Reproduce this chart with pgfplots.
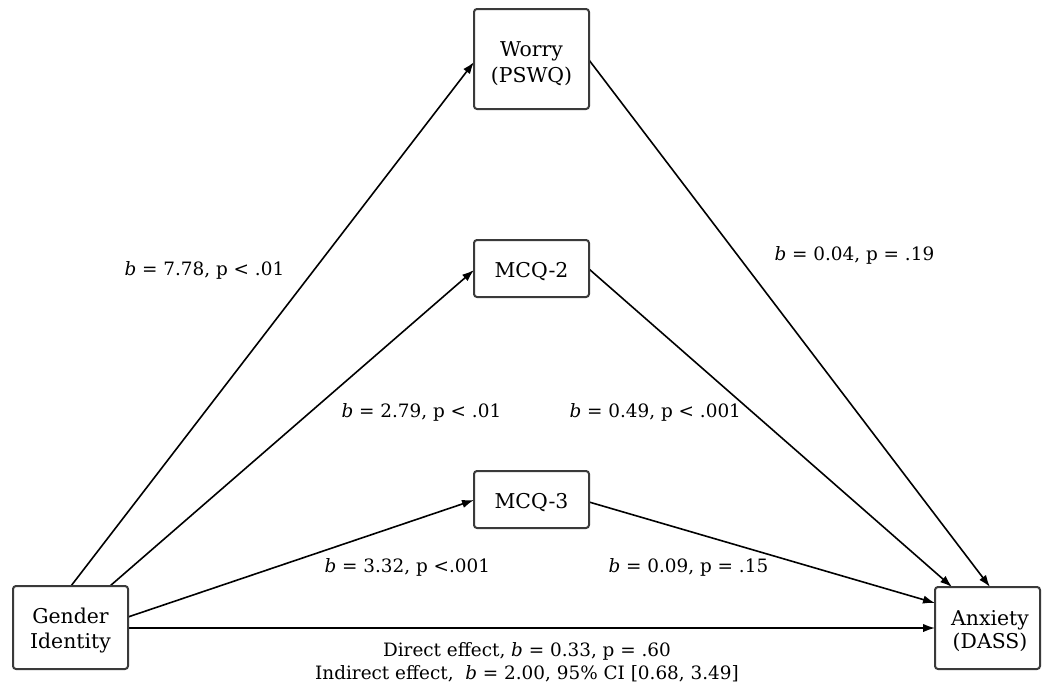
\documentclass[border=0pt]{standalone}
\usepackage{pgfplots}
\pgfplotsset{compat=1.18}
\usepackage{fontspec}
\setmainfont{DejaVu Serif}
\usetikzlibrary{arrows.meta}
\definecolor{boxc}{HTML}{3A3A3A}
\definecolor{txt}{HTML}{1A1A1A}
\begin{document}
\fontsize{9.2pt}{11pt}\selectfont
\begin{tikzpicture}
\begin{axis}[
  width=521.5pt, height=348pt, scale only axis,
  xmin=0, xmax=1043, ymin=0, ymax=696, y dir=reverse,
  hide axis, clip=false,
  every node/.style={font=\fontsize{9.2pt}{11pt}\selectfont, text=txt, inner sep=0pt},
]
\path (axis cs:0,0) rectangle (axis cs:1043,696);
% arrows
\pgfplotsset{arr/.style={black, line width=0.8pt, -{Latex[length=6pt,width=4.2pt]}}}
\addplot[arr] coordinates {(71,586) (474,62)};
\addplot[arr] coordinates {(110,586) (474,270)};
\addplot[arr] coordinates {(128,617) (474,500)};
\addplot[arr] coordinates {(128,628) (935,628)};
\addplot[arr] coordinates {(589,60) (990,587)};
\addplot[arr] coordinates {(589,269) (952,587)};
\addplot[arr] coordinates {(589,502) (935,603)};
% boxes
\tikzset{bx/.style={draw=boxc, line width=1pt, rounded corners=1.5pt, fill=white}}
\draw[bx] (axis cs:474,9) rectangle (axis cs:589,109);
\draw[bx] (axis cs:474,240) rectangle (axis cs:589,297);
\draw[bx] (axis cs:474,471) rectangle (axis cs:589,528);
\draw[bx] (axis cs:13,586) rectangle (axis cs:128,669);
\draw[bx] (axis cs:935,587) rectangle (axis cs:1040,669);
% box texts
\tikzset{bt/.style={anchor=base, font=\fontsize{10.2pt}{12pt}\selectfont}}
\node[bt] at (axis cs:531.5,56) {Worry};
\node[bt] at (axis cs:531.5,82) {(PSWQ)};
\node[bt] at (axis cs:531.5,277) {MCQ-2};
\node[bt] at (axis cs:531.5,508) {MCQ-3};
\node[bt] at (axis cs:70.5,623) {Gender};
\node[bt] at (axis cs:70.5,648) {Identity};
\node[bt] at (axis cs:990,625) {Anxiety};
\node[bt] at (axis cs:990,648) {(DASS)};
% path labels
\node[anchor=base west] at (axis cs:118,275) {\textit{b} = 7.78, p < .01};
\node[anchor=base west] at (axis cs:768,260) {\textit{b} = 0.04, p = .19};
\node[anchor=base west] at (axis cs:335,417) {\textit{b} = 2.79, p < .01};
\node[anchor=base west] at (axis cs:563,417) {\textit{b} = 0.49, p < .001};
\node[anchor=base west] at (axis cs:318,572) {\textit{b} = 3.32, p <.001};
\node[anchor=base west] at (axis cs:602,572) {\textit{b} = 0.09, p = .15};
\node[anchor=base] at (axis cs:527,656) {Direct effect, \textit{b} = 0.33, p = .60};
\node[anchor=base] at (axis cs:527,679) {Indirect effect, \ \textit{b} = 2.00, 95\% CI [0.68, 3.49]};
\end{axis}
\end{tikzpicture}
\end{document}
